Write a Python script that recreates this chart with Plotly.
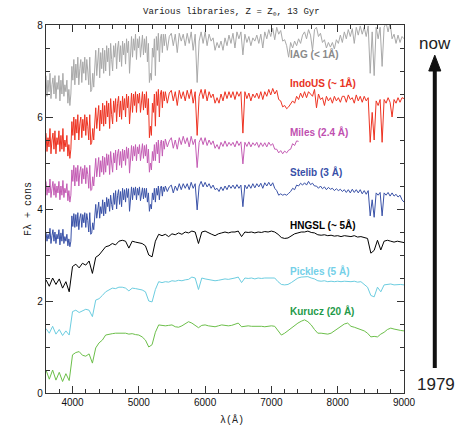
import numpy as np
import plotly.graph_objects as go

# ---------------- data ----------------
# high-resolution libraries: every 15 A from 3600 to 5385 A, then every 30 A to 9000 A
wave_hr = np.concatenate([np.arange(3600, 5400, 15), np.arange(5400, 9001, 30)])
# low-resolution libraries sampled every 50 A
wave_lr = np.arange(3600, 9001, 50)

iag = [
    # 3600-5385 (15 A)
    6.9, 6.45, 6.8, 6.55, 6.95, 6.4, 6.7, 6.85, 6.5, 6.9,
    6.4, 6.75, 6.6, 6.9, 6.35, 6.8, 6.5, 6.95, 6.45, 6.7,
    6.55, 6.8, 6.3, 6.6, 6.25, 6.5, 7.1, 6.8, 7.25, 6.7,
    7.15, 6.85, 7.3, 6.7, 7.05, 7.25, 6.75, 7.2, 6.95, 7.3,
    6.8, 7.25, 7.0, 6.7, 7.3, 6.55, 6.6, 6.95, 6.65, 7.2,
    7.45, 6.9, 7.35, 7.5, 6.85, 7.4, 7.05, 7.5, 6.95, 7.45,
    7.0, 7.55, 7.2, 7.5, 6.9, 7.6, 7.25, 7.0, 7.55, 7.3,
    7.6, 7.05, 7.5, 7.65, 7.2, 7.55, 7.1, 7.65, 7.35, 7.6,
    7.15, 7.7, 7.4, 7.65, 6.95, 7.55, 7.75, 7.3, 7.7, 7.45,
    7.8, 7.25, 7.7, 7.5, 7.75, 7.3, 7.6, 7.78, 7.35, 7.7,
    7.4, 7.75, 7.2, 7.6, 6.75, 6.95, 6.8, 7.5, 7.3, 7.7,
    6.9, 7.75, 7.45, 7.82, 7.2, 7.7, 7.8, 7.4, 7.8, 7.55,
    # 5400-9000 (30 A)
    7.8, 7.45, 7.75, 7.82, 7.55, 7.8, 7.4, 7.82, 7.65, 7.8,
    7.55, 7.82, 7.6, 7.85, 7.45, 7.8, 6.75, 7.65, 7.85, 7.6,
    7.85, 7.55, 7.8, 7.65, 7.72, 7.45, 7.62, 7.5, 7.65, 7.45,
    7.72, 7.55, 7.78, 7.6, 7.82, 7.5, 7.85, 7.7, 7.85, 7.35,
    7.8, 7.62, 7.75, 7.55, 7.72, 7.65, 7.78, 7.6, 7.8, 7.5,
    7.85, 7.7, 7.9, 7.75, 7.93, 7.68, 7.95, 7.8, 7.88, 7.65,
    7.68, 7.55, 7.3, 7.62, 7.5, 7.65, 7.55, 7.7, 7.6, 7.78,
    7.85, 7.7, 7.9, 7.78, 7.45, 7.9, 7.95, 7.75, 7.82, 7.62,
    7.68, 7.5, 7.62, 7.52, 7.62, 7.48, 7.68, 7.6, 7.78, 7.62,
    7.85, 7.7, 7.9, 7.75, 7.92, 7.6, 7.95, 7.78, 7.98, 7.8,
    7.95, 7.75, 7.98, 6.95, 7.85, 6.9, 7.95, 7.7, 7.95, 7.1,
    7.95, 8.05, 7.85, 8.05, 7.7, 7.8, 7.6, 7.78, 7.62, 7.75,
    7.7,
]

indous = [
    5.65, 5.25, 5.55, 5.35, 5.75, 5.2, 5.5, 5.65, 5.3, 5.7,
    5.2, 5.55, 5.4, 5.7, 5.25, 5.6, 5.3, 5.75, 5.25, 5.5,
    5.35, 5.6, 5.15, 5.4, 5.1, 5.3, 5.9, 5.6, 6.0, 5.5,
    5.95, 5.65, 6.05, 5.5, 5.85, 6.0, 5.55, 5.95, 5.7, 6.05,
    5.6, 6.0, 5.8, 5.5, 6.05, 5.4, 5.45, 5.75, 5.5, 6.0,
    6.2, 5.75, 6.1, 6.25, 5.7, 6.15, 5.85, 6.3, 5.8, 6.25,
    5.85, 6.35, 6.0, 6.3, 5.75, 6.4, 6.05, 5.85, 6.35, 6.1,
    6.4, 5.9, 6.3, 6.45, 6.0, 6.35, 5.95, 6.45, 6.15, 6.4,
    6.0, 6.5, 6.2, 6.45, 5.85, 6.35, 6.52, 6.1, 6.5, 6.25,
    6.55, 6.1, 6.5, 6.3, 6.52, 6.1, 6.4, 6.55, 6.15, 6.5,
    6.2, 6.55, 6.05, 6.4, 5.55, 5.8, 5.6, 6.3, 6.1, 6.5,
    5.8, 6.55, 6.25, 6.6, 6.0, 6.5, 6.58, 6.2, 6.55, 6.35,
    6.55, 6.3, 6.52, 6.58, 6.35, 6.55, 6.25, 6.58, 6.4, 6.55,
    6.35, 6.58, 6.4, 6.6, 6.3, 6.55, 5.6, 6.45, 6.6, 6.4,
    6.6, 6.35, 6.55, 6.42, 6.5, 6.3, 6.42, 6.3, 6.5, 6.35,
    6.55, 6.4, 6.55, 6.42, 6.55, 6.38, 6.55, 6.45, 6.55, 5.65,
    6.55, 6.4, 6.52, 6.35, 6.5, 6.42, 6.52, 6.4, 6.55, 6.38,
    6.55, 6.45, 6.6, 6.48, 6.62, 6.5, 6.58, 6.38, 6.35, 6.22,
    6.25, 6.18, 6.22, 6.28, 6.35, 6.3, 6.45, 6.38, 6.52, 6.42,
    6.55, 6.42, 6.55, 6.5, 6.45, 6.6, 6.2, 6.5, 6.38, 6.42,
    6.25, 6.45, 6.35, 6.42, 6.3, 6.45, 6.35, 6.42, 6.32, 6.45,
    6.45, 6.32, 6.48, 6.38, 6.42, 6.3, 6.48, 6.35, 6.45, 6.32,
    6.45, 6.35, 6.42, 5.45, 6.1, 5.5, 6.35, 6.25, 6.38, 5.45,
    6.38, 6.3, 6.42, 6.32, 6.0, 6.38, 6.3, 6.42, 6.32, 6.42,
    6.4,
]

# MILES stops at ~7410 A
miles = [
    4.6, 4.3, 4.5, 4.35, 4.65, 4.25, 4.45, 4.6, 4.3, 4.55,
    4.25, 4.5, 4.35, 4.6, 4.2, 4.5, 4.3, 4.62, 4.25, 4.45,
    4.35, 4.55, 4.18, 4.4, 4.15, 4.3, 4.85, 4.6, 4.95, 4.5,
    4.9, 4.6, 4.95, 4.5, 4.8, 4.92, 4.55, 4.88, 4.65, 4.95,
    4.55, 4.9, 4.75, 4.45, 4.95, 4.4, 4.42, 4.7, 4.5, 4.95,
    5.1, 4.7, 5.0, 5.12, 4.7, 5.05, 4.8, 5.15, 4.75, 5.12,
    4.8, 5.2, 4.95, 5.18, 4.75, 5.25, 5.0, 4.8, 5.22, 5.0,
    5.28, 4.85, 5.2, 5.3, 4.95, 5.25, 4.9, 5.3, 5.05, 5.28,
    4.95, 5.35, 5.1, 5.32, 4.78, 5.25, 5.38, 5.05, 5.36, 5.15,
    5.4, 5.05, 5.35, 5.2, 5.4, 5.05, 5.3, 5.42, 5.1, 5.38,
    5.15, 5.4, 5.0, 5.3, 4.8, 5.0, 4.85, 5.25, 5.05, 5.4,
    5.05, 5.45, 5.2, 5.5, 5.0, 5.42, 5.5, 5.15, 5.48, 5.3,
    5.52, 5.35, 5.48, 5.55, 5.32, 5.5, 5.3, 5.55, 5.4, 5.58,
    5.42, 5.55, 5.35, 5.58, 5.4, 5.52, 4.9, 5.45, 5.55, 5.4,
    5.55, 5.38, 5.5, 5.4, 5.48, 5.32, 5.4, 5.3, 5.45, 5.36,
    5.48, 5.36, 5.45, 5.38, 5.45, 5.35, 5.48, 5.38, 5.46, 4.98,
    5.45, 5.36, 5.46, 5.35, 5.44, 5.38, 5.45, 5.34, 5.44, 5.36,
    5.44, 5.35, 5.45, 5.38, 5.42, 5.3, 5.3, 5.22, 5.27, 5.2,
    5.26, 5.22, 5.28, 5.3, 5.42, 5.38, 5.48, 5.47,
]

stelib = [
    3.5, 3.3, 3.45, 3.35, 3.58, 3.25, 3.42, 3.55, 3.3, 3.5,
    3.25, 3.45, 3.35, 3.55, 3.22, 3.48, 3.3, 3.56, 3.25, 3.4,
    3.3, 3.45, 3.2, 3.35, 3.18, 3.3, 3.85, 3.62, 3.9, 3.6,
    3.88, 3.62, 3.92, 3.55, 3.8, 3.9, 3.6, 3.88, 3.7, 3.92,
    3.6, 3.9, 3.75, 3.5, 3.92, 3.45, 3.48, 3.7, 3.55, 3.95,
    4.1, 3.8, 4.0, 4.15, 3.8, 4.05, 3.9, 4.2, 3.85, 4.15,
    3.9, 4.25, 4.05, 4.22, 3.95, 4.3, 4.1, 3.98, 4.35, 4.1,
    4.4, 4.0, 4.3, 4.42, 4.1, 4.38, 4.05, 4.45, 4.2, 4.42,
    4.15, 4.45, 4.25, 4.44, 3.95, 4.35, 4.48, 4.2, 4.46, 4.3,
    4.48, 4.2, 4.45, 4.3, 4.48, 4.18, 4.38, 4.46, 4.22, 4.45,
    4.25, 4.45, 4.15, 4.35, 3.95, 4.1, 4.0, 4.35, 4.2, 4.45,
    4.15, 4.45, 4.3, 4.5, 4.2, 4.45, 4.5, 4.28, 4.48, 4.38,
    4.5, 4.38, 4.48, 4.52, 4.35, 4.5, 4.4, 4.55, 4.42, 4.55,
    4.45, 4.55, 4.42, 4.58, 4.45, 4.55, 3.98, 4.5, 4.6, 4.48,
    4.58, 4.48, 4.55, 4.45, 4.52, 4.42, 4.45, 4.38, 4.48, 4.4,
    4.5, 4.42, 4.52, 4.45, 4.52, 4.44, 4.53, 4.45, 4.52, 4.05,
    4.52, 4.44, 4.53, 4.45, 4.55, 4.46, 4.55, 4.48, 4.56, 4.45,
    4.57, 4.5, 4.58, 4.5, 4.57, 4.45, 4.4, 4.3, 4.33, 4.3,
    4.32, 4.3, 4.34, 4.38, 4.45, 4.42, 4.52, 4.5, 4.56, 4.52,
    4.57, 4.52, 4.6, 4.53, 4.56, 4.5, 4.5, 4.45, 4.5, 4.44,
    4.48, 4.42, 4.47, 4.43, 4.45, 4.4, 4.44, 4.4, 4.43, 4.38,
    4.42, 4.36, 4.42, 4.35, 4.43, 4.36, 4.42, 4.35, 4.42, 4.33,
    4.4, 4.32, 4.4, 3.85, 4.2, 3.82, 4.35, 4.3, 4.36, 3.85,
    4.35, 4.3, 4.36, 4.28, 4.35, 4.28, 4.32, 4.26, 4.3, 4.2,
    4.15,
]

hngsl = [
    2.46, 2.32, 2.5, 2.36, 2.48, 2.28, 2.42, 2.2, 2.75, 2.8,
    2.72, 2.82, 2.78, 2.87, 2.6, 2.95, 3.0, 3.1, 3.18, 3.2,
    3.25, 3.22, 3.3, 3.32, 3.3, 3.15, 3.3, 3.28, 3.27, 3.25,
    3.2, 3.0, 2.96, 3.3, 3.45, 3.42, 3.45, 3.4, 3.46, 3.44,
    3.48, 3.45, 3.5, 3.48, 3.52, 3.5, 3.25, 3.5, 3.52, 3.48,
    3.45, 3.42, 3.46, 3.48, 3.5, 3.48, 3.5, 3.5, 3.52, 3.4,
    3.5, 3.49, 3.5, 3.48, 3.5, 3.49, 3.51, 3.5, 3.52, 3.5,
    3.45, 3.38, 3.36, 3.37, 3.42, 3.46, 3.48, 3.5, 3.5, 3.52,
    3.49, 3.48, 3.44, 3.43, 3.44, 3.42, 3.43, 3.41, 3.42, 3.4,
    3.42, 3.41, 3.4, 3.42, 3.39, 3.4, 3.38, 3.36, 3.04, 3.1,
    3.32, 3.11, 3.3, 3.32, 3.3, 3.28, 3.3, 3.29, 3.27,
]

pickles = [
    1.4, 1.3, 1.45, 1.28, 1.38, 1.25, 1.35, 1.26, 1.77, 1.8,
    1.75, 1.78, 1.82, 1.8, 1.66, 2.02, 2.05, 2.12, 2.2, 2.24,
    2.28, 2.27, 2.3, 2.3, 2.28, 2.22, 2.28, 2.27, 2.25, 2.24,
    2.2, 2.0, 1.98, 2.25, 2.42, 2.4, 2.42, 2.41, 2.44, 2.43,
    2.45, 2.44, 2.46, 2.47, 2.52, 2.5, 2.25, 2.5, 2.48, 2.47,
    2.46, 2.44, 2.45, 2.47, 2.48, 2.47, 2.48, 2.5, 2.52, 2.4,
    2.5, 2.49, 2.5, 2.48, 2.5, 2.49, 2.5, 2.5, 2.51, 2.5,
    2.42, 2.36, 2.35, 2.36, 2.4, 2.45, 2.5, 2.52, 2.52, 2.53,
    2.5, 2.48, 2.44, 2.43, 2.44, 2.42, 2.43, 2.42, 2.43, 2.42,
    2.43, 2.42, 2.42, 2.43, 2.41, 2.42, 2.35, 2.3, 2.12, 2.09,
    2.3, 2.2, 2.35, 2.36, 2.37, 2.35, 2.36, 2.36, 2.35,
]

kurucz = [
    0.5, 0.3, 0.5, 0.28, 0.45, 0.25, 0.42, 0.27, 0.83, 0.88,
    0.9, 0.82, 0.8, 0.85, 0.65, 0.98, 1.09, 1.15, 1.26, 1.28,
    1.29, 1.3, 1.3, 1.31, 1.3, 1.28, 1.29, 1.27, 1.26, 1.22,
    1.15, 1.0, 1.05, 1.32, 1.48, 1.47, 1.46, 1.47, 1.48, 1.44,
    1.43, 1.46, 1.5, 1.55, 1.52, 1.46, 1.42, 1.47, 1.48, 1.46,
    1.45, 1.44, 1.46, 1.48, 1.47, 1.46, 1.47, 1.5, 1.52, 1.44,
    1.45, 1.46, 1.45, 1.45, 1.46, 1.45, 1.44, 1.45, 1.46, 1.45,
    1.36, 1.26, 1.3, 1.36, 1.42, 1.47, 1.52, 1.56, 1.59, 1.55,
    1.48, 1.38, 1.3, 1.3, 1.29, 1.28, 1.3, 1.35, 1.4, 1.45,
    1.5, 1.52, 1.45, 1.43, 1.4, 1.38, 1.35, 1.3, 1.22, 1.23,
    1.22, 1.28, 1.32, 1.38, 1.41, 1.39, 1.37, 1.36, 1.35,
]

names = ["IAG (< 1Å)", "IndoUS (~ 1Å)", "Miles (2.4 Å)", "Stelib (3 Å)",
         "HNGSL (~ 5Å)", "Pickles (5 Å)", "Kurucz (20 Å)"]
label_y = [7.37, 6.74, 5.67, 4.8, 3.65, 2.65, 1.78]
label_x = 7250

# ---------------- styles ----------------
line_colors = ["#a9a9a9", "#ee3322", "#c45cb4", "#3a52a8", "#000000", "#6ccde0", "#6cbf4a"]
text_colors = ["#8a8a8a", "#e8321e", "#c050b0", "#3850a8", "#000000", "#74d0e8", "#1f9a4a"]

series = [
    (wave_hr, iag), (wave_hr, indous), (wave_hr[:len(miles)], miles), (wave_hr, stelib),
    (wave_lr, hngsl), (wave_lr, pickles), (wave_lr, kurucz),
]

fig = go.Figure()
for (wx, fy), name, col in zip(series, names, line_colors):
    fig.add_trace(go.Scatter(x=wx, y=fy, mode="lines", name=name,
                             line=dict(color=col, width=1), showlegend=False,
                             hoverinfo="skip"))

annotations = []
for name, ly, tc in zip(names, label_y, text_colors):
    annotations.append(dict(x=label_x, y=ly, xref="x", yref="y", text="<b>%s</b>" % name,
                            showarrow=False, xanchor="left", yanchor="middle",
                            font=dict(family="Liberation Sans, Arial", size=10, color=tc)))

serif = "Liberation Mono, Courier New, monospace"
annotations += [
    dict(x=0.517, y=1.035, xref="paper", yref="paper", showarrow=False,
         text="Various libraries, Z = Z<sub>⊙</sub>, 13 Gyr",
         font=dict(family=serif, size=9, color="#222"), xanchor="center", yanchor="middle"),
    dict(x=0.52, y=-0.073, xref="paper", yref="paper", showarrow=False,
         text="λ(Å)", font=dict(family=serif, size=10, color="#222"),
         xanchor="center", yanchor="middle"),
    dict(x=-0.05, y=0.5, xref="paper", yref="paper", showarrow=False,
         text="Fλ + cons", textangle=-90, font=dict(family=serif, size=10, color="#222"),
         xanchor="center", yanchor="middle"),
    dict(x=1.086, y=0.951, xref="paper", yref="paper", showarrow=False,
         text="now", font=dict(family="Liberation Sans, Arial", size=17, color="#222"),
         xanchor="center", yanchor="middle"),
    dict(x=1.089, y=0.024, xref="paper", yref="paper", showarrow=False,
         text="1979", font=dict(family="Liberation Sans, Arial", size=17, color="#222"),
         xanchor="center", yanchor="middle"),
]

shapes = [
    dict(type="line", xref="paper", yref="paper", x0=1.086, x1=1.086, y0=0.068, y1=0.885,
         line=dict(color="#111", width=4)),
    dict(type="path", xref="paper", yref="paper",
         path="M 1.0692,0.875 L 1.1028,0.875 L 1.086,0.918 Z",
         fillcolor="#111", line=dict(color="#111", width=1)),
]

axis_common = dict(showgrid=False, zeroline=False, showline=True, linecolor="#333",
                   linewidth=1.2, mirror="ticks", ticks="inside", tickcolor="#333",
                   tickfont=dict(family="Liberation Sans, Arial", size=10, color="#111"))

fig.update_layout(
    width=458, height=441,
    margin=dict(l=46, r=54, t=25, b=48),
    paper_bgcolor="white", plot_bgcolor="white",
    xaxis=dict(range=[3600, 9000], tickvals=[4000, 5000, 6000, 7000, 8000, 9000],
               ticklen=7, tickwidth=1,
               minor=dict(ticks="inside", ticklen=4, tick0=3800, dtick=200, tickcolor="#333"),
               **axis_common),
    yaxis=dict(range=[0, 8], tickvals=[0, 2, 4, 6, 8], ticklen=7, tickwidth=1,
               minor=dict(ticks="inside", ticklen=4, tick0=0, dtick=0.5, tickcolor="#333"),
               **axis_common),
    annotations=annotations,
    shapes=shapes,
)

fig.write_html("out.html", config={"displayModeBar": False},
               post_script="document.body.style.margin='0px';")
